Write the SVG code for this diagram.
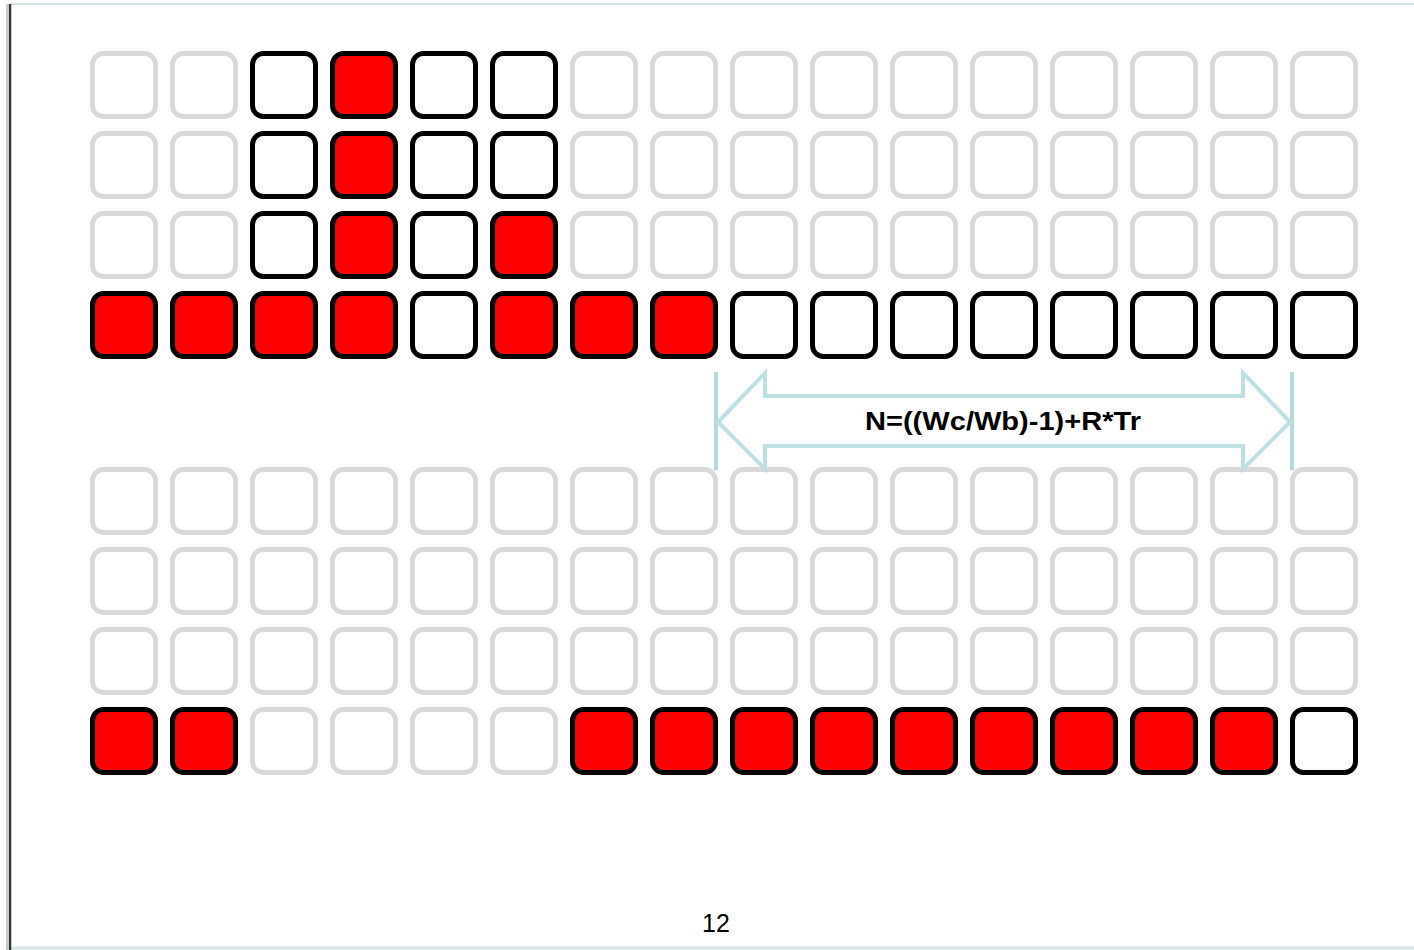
<svg xmlns="http://www.w3.org/2000/svg" width="1414" height="950" viewBox="0 0 1414 950">
<style>
rect.c{width:63px;height:63px;rx:11px;stroke-width:5px}
.g{fill:#fff;stroke:#d9d9d9}
.k{fill:#fff;stroke:#000}
.r{fill:#ff0000;stroke:#000}
.lbl{font-family:"Liberation Sans",Arial,sans-serif;font-weight:bold;font-size:26px;fill:#000}
.pg{font-family:"Liberation Sans",Arial,sans-serif;font-size:25px;fill:#000}
</style>
<rect x="0" y="0" width="1414" height="950" fill="#fff"/>
<g id="frame">
<line x1="10" y1="4" x2="1414" y2="4" stroke="#d6e6e8" stroke-width="2"/>
<line x1="10" y1="948" x2="1414" y2="948" stroke="#d6e6e8" stroke-width="3"/>
<line x1="7" y1="4" x2="7" y2="950" stroke="#c8c8c8" stroke-width="2"/>
<line x1="10" y1="4" x2="10" y2="950" stroke="#333" stroke-width="2.5"/>
</g>
<g id="row0">
<g id="r0c0"><rect class="c g" x="92.5" y="53.5" width="63" height="63" rx="11"/></g>
<g id="r0c1"><rect class="c g" x="172.5" y="53.5" width="63" height="63" rx="11"/></g>
<g id="r0c2"><rect class="c k" x="252.5" y="53.5" width="63" height="63" rx="11"/></g>
<g id="r0c3"><rect class="c r" x="332.5" y="53.5" width="63" height="63" rx="11"/></g>
<g id="r0c4"><rect class="c k" x="412.5" y="53.5" width="63" height="63" rx="11"/></g>
<g id="r0c5"><rect class="c k" x="492.5" y="53.5" width="63" height="63" rx="11"/></g>
<g id="r0c6"><rect class="c g" x="572.5" y="53.5" width="63" height="63" rx="11"/></g>
<g id="r0c7"><rect class="c g" x="652.5" y="53.5" width="63" height="63" rx="11"/></g>
<g id="r0c8"><rect class="c g" x="732.5" y="53.5" width="63" height="63" rx="11"/></g>
<g id="r0c9"><rect class="c g" x="812.5" y="53.5" width="63" height="63" rx="11"/></g>
<g id="r0c10"><rect class="c g" x="892.5" y="53.5" width="63" height="63" rx="11"/></g>
<g id="r0c11"><rect class="c g" x="972.5" y="53.5" width="63" height="63" rx="11"/></g>
<g id="r0c12"><rect class="c g" x="1052.5" y="53.5" width="63" height="63" rx="11"/></g>
<g id="r0c13"><rect class="c g" x="1132.5" y="53.5" width="63" height="63" rx="11"/></g>
<g id="r0c14"><rect class="c g" x="1212.5" y="53.5" width="63" height="63" rx="11"/></g>
<g id="r0c15"><rect class="c g" x="1292.5" y="53.5" width="63" height="63" rx="11"/></g>
</g>
<g id="row1">
<g id="r1c0"><rect class="c g" x="92.5" y="133.5" width="63" height="63" rx="11"/></g>
<g id="r1c1"><rect class="c g" x="172.5" y="133.5" width="63" height="63" rx="11"/></g>
<g id="r1c2"><rect class="c k" x="252.5" y="133.5" width="63" height="63" rx="11"/></g>
<g id="r1c3"><rect class="c r" x="332.5" y="133.5" width="63" height="63" rx="11"/></g>
<g id="r1c4"><rect class="c k" x="412.5" y="133.5" width="63" height="63" rx="11"/></g>
<g id="r1c5"><rect class="c k" x="492.5" y="133.5" width="63" height="63" rx="11"/></g>
<g id="r1c6"><rect class="c g" x="572.5" y="133.5" width="63" height="63" rx="11"/></g>
<g id="r1c7"><rect class="c g" x="652.5" y="133.5" width="63" height="63" rx="11"/></g>
<g id="r1c8"><rect class="c g" x="732.5" y="133.5" width="63" height="63" rx="11"/></g>
<g id="r1c9"><rect class="c g" x="812.5" y="133.5" width="63" height="63" rx="11"/></g>
<g id="r1c10"><rect class="c g" x="892.5" y="133.5" width="63" height="63" rx="11"/></g>
<g id="r1c11"><rect class="c g" x="972.5" y="133.5" width="63" height="63" rx="11"/></g>
<g id="r1c12"><rect class="c g" x="1052.5" y="133.5" width="63" height="63" rx="11"/></g>
<g id="r1c13"><rect class="c g" x="1132.5" y="133.5" width="63" height="63" rx="11"/></g>
<g id="r1c14"><rect class="c g" x="1212.5" y="133.5" width="63" height="63" rx="11"/></g>
<g id="r1c15"><rect class="c g" x="1292.5" y="133.5" width="63" height="63" rx="11"/></g>
</g>
<g id="row2">
<g id="r2c0"><rect class="c g" x="92.5" y="213.5" width="63" height="63" rx="11"/></g>
<g id="r2c1"><rect class="c g" x="172.5" y="213.5" width="63" height="63" rx="11"/></g>
<g id="r2c2"><rect class="c k" x="252.5" y="213.5" width="63" height="63" rx="11"/></g>
<g id="r2c3"><rect class="c r" x="332.5" y="213.5" width="63" height="63" rx="11"/></g>
<g id="r2c4"><rect class="c k" x="412.5" y="213.5" width="63" height="63" rx="11"/></g>
<g id="r2c5"><rect class="c r" x="492.5" y="213.5" width="63" height="63" rx="11"/></g>
<g id="r2c6"><rect class="c g" x="572.5" y="213.5" width="63" height="63" rx="11"/></g>
<g id="r2c7"><rect class="c g" x="652.5" y="213.5" width="63" height="63" rx="11"/></g>
<g id="r2c8"><rect class="c g" x="732.5" y="213.5" width="63" height="63" rx="11"/></g>
<g id="r2c9"><rect class="c g" x="812.5" y="213.5" width="63" height="63" rx="11"/></g>
<g id="r2c10"><rect class="c g" x="892.5" y="213.5" width="63" height="63" rx="11"/></g>
<g id="r2c11"><rect class="c g" x="972.5" y="213.5" width="63" height="63" rx="11"/></g>
<g id="r2c12"><rect class="c g" x="1052.5" y="213.5" width="63" height="63" rx="11"/></g>
<g id="r2c13"><rect class="c g" x="1132.5" y="213.5" width="63" height="63" rx="11"/></g>
<g id="r2c14"><rect class="c g" x="1212.5" y="213.5" width="63" height="63" rx="11"/></g>
<g id="r2c15"><rect class="c g" x="1292.5" y="213.5" width="63" height="63" rx="11"/></g>
</g>
<g id="row3">
<g id="r3c0"><rect class="c r" x="92.5" y="293.5" width="63" height="63" rx="11"/></g>
<g id="r3c1"><rect class="c r" x="172.5" y="293.5" width="63" height="63" rx="11"/></g>
<g id="r3c2"><rect class="c r" x="252.5" y="293.5" width="63" height="63" rx="11"/></g>
<g id="r3c3"><rect class="c r" x="332.5" y="293.5" width="63" height="63" rx="11"/></g>
<g id="r3c4"><rect class="c k" x="412.5" y="293.5" width="63" height="63" rx="11"/></g>
<g id="r3c5"><rect class="c r" x="492.5" y="293.5" width="63" height="63" rx="11"/></g>
<g id="r3c6"><rect class="c r" x="572.5" y="293.5" width="63" height="63" rx="11"/></g>
<g id="r3c7"><rect class="c r" x="652.5" y="293.5" width="63" height="63" rx="11"/></g>
<g id="r3c8"><rect class="c k" x="732.5" y="293.5" width="63" height="63" rx="11"/></g>
<g id="r3c9"><rect class="c k" x="812.5" y="293.5" width="63" height="63" rx="11"/></g>
<g id="r3c10"><rect class="c k" x="892.5" y="293.5" width="63" height="63" rx="11"/></g>
<g id="r3c11"><rect class="c k" x="972.5" y="293.5" width="63" height="63" rx="11"/></g>
<g id="r3c12"><rect class="c k" x="1052.5" y="293.5" width="63" height="63" rx="11"/></g>
<g id="r3c13"><rect class="c k" x="1132.5" y="293.5" width="63" height="63" rx="11"/></g>
<g id="r3c14"><rect class="c k" x="1212.5" y="293.5" width="63" height="63" rx="11"/></g>
<g id="r3c15"><rect class="c k" x="1292.5" y="293.5" width="63" height="63" rx="11"/></g>
</g>
<g id="row4">
<g id="r4c0"><rect class="c g" x="92.5" y="469.5" width="63" height="63" rx="11"/></g>
<g id="r4c1"><rect class="c g" x="172.5" y="469.5" width="63" height="63" rx="11"/></g>
<g id="r4c2"><rect class="c g" x="252.5" y="469.5" width="63" height="63" rx="11"/></g>
<g id="r4c3"><rect class="c g" x="332.5" y="469.5" width="63" height="63" rx="11"/></g>
<g id="r4c4"><rect class="c g" x="412.5" y="469.5" width="63" height="63" rx="11"/></g>
<g id="r4c5"><rect class="c g" x="492.5" y="469.5" width="63" height="63" rx="11"/></g>
<g id="r4c6"><rect class="c g" x="572.5" y="469.5" width="63" height="63" rx="11"/></g>
<g id="r4c7"><rect class="c g" x="652.5" y="469.5" width="63" height="63" rx="11"/></g>
<g id="r4c8"><rect class="c g" x="732.5" y="469.5" width="63" height="63" rx="11"/></g>
<g id="r4c9"><rect class="c g" x="812.5" y="469.5" width="63" height="63" rx="11"/></g>
<g id="r4c10"><rect class="c g" x="892.5" y="469.5" width="63" height="63" rx="11"/></g>
<g id="r4c11"><rect class="c g" x="972.5" y="469.5" width="63" height="63" rx="11"/></g>
<g id="r4c12"><rect class="c g" x="1052.5" y="469.5" width="63" height="63" rx="11"/></g>
<g id="r4c13"><rect class="c g" x="1132.5" y="469.5" width="63" height="63" rx="11"/></g>
<g id="r4c14"><rect class="c g" x="1212.5" y="469.5" width="63" height="63" rx="11"/></g>
<g id="r4c15"><rect class="c g" x="1292.5" y="469.5" width="63" height="63" rx="11"/></g>
</g>
<g id="row5">
<g id="r5c0"><rect class="c g" x="92.5" y="549.5" width="63" height="63" rx="11"/></g>
<g id="r5c1"><rect class="c g" x="172.5" y="549.5" width="63" height="63" rx="11"/></g>
<g id="r5c2"><rect class="c g" x="252.5" y="549.5" width="63" height="63" rx="11"/></g>
<g id="r5c3"><rect class="c g" x="332.5" y="549.5" width="63" height="63" rx="11"/></g>
<g id="r5c4"><rect class="c g" x="412.5" y="549.5" width="63" height="63" rx="11"/></g>
<g id="r5c5"><rect class="c g" x="492.5" y="549.5" width="63" height="63" rx="11"/></g>
<g id="r5c6"><rect class="c g" x="572.5" y="549.5" width="63" height="63" rx="11"/></g>
<g id="r5c7"><rect class="c g" x="652.5" y="549.5" width="63" height="63" rx="11"/></g>
<g id="r5c8"><rect class="c g" x="732.5" y="549.5" width="63" height="63" rx="11"/></g>
<g id="r5c9"><rect class="c g" x="812.5" y="549.5" width="63" height="63" rx="11"/></g>
<g id="r5c10"><rect class="c g" x="892.5" y="549.5" width="63" height="63" rx="11"/></g>
<g id="r5c11"><rect class="c g" x="972.5" y="549.5" width="63" height="63" rx="11"/></g>
<g id="r5c12"><rect class="c g" x="1052.5" y="549.5" width="63" height="63" rx="11"/></g>
<g id="r5c13"><rect class="c g" x="1132.5" y="549.5" width="63" height="63" rx="11"/></g>
<g id="r5c14"><rect class="c g" x="1212.5" y="549.5" width="63" height="63" rx="11"/></g>
<g id="r5c15"><rect class="c g" x="1292.5" y="549.5" width="63" height="63" rx="11"/></g>
</g>
<g id="row6">
<g id="r6c0"><rect class="c g" x="92.5" y="629.5" width="63" height="63" rx="11"/></g>
<g id="r6c1"><rect class="c g" x="172.5" y="629.5" width="63" height="63" rx="11"/></g>
<g id="r6c2"><rect class="c g" x="252.5" y="629.5" width="63" height="63" rx="11"/></g>
<g id="r6c3"><rect class="c g" x="332.5" y="629.5" width="63" height="63" rx="11"/></g>
<g id="r6c4"><rect class="c g" x="412.5" y="629.5" width="63" height="63" rx="11"/></g>
<g id="r6c5"><rect class="c g" x="492.5" y="629.5" width="63" height="63" rx="11"/></g>
<g id="r6c6"><rect class="c g" x="572.5" y="629.5" width="63" height="63" rx="11"/></g>
<g id="r6c7"><rect class="c g" x="652.5" y="629.5" width="63" height="63" rx="11"/></g>
<g id="r6c8"><rect class="c g" x="732.5" y="629.5" width="63" height="63" rx="11"/></g>
<g id="r6c9"><rect class="c g" x="812.5" y="629.5" width="63" height="63" rx="11"/></g>
<g id="r6c10"><rect class="c g" x="892.5" y="629.5" width="63" height="63" rx="11"/></g>
<g id="r6c11"><rect class="c g" x="972.5" y="629.5" width="63" height="63" rx="11"/></g>
<g id="r6c12"><rect class="c g" x="1052.5" y="629.5" width="63" height="63" rx="11"/></g>
<g id="r6c13"><rect class="c g" x="1132.5" y="629.5" width="63" height="63" rx="11"/></g>
<g id="r6c14"><rect class="c g" x="1212.5" y="629.5" width="63" height="63" rx="11"/></g>
<g id="r6c15"><rect class="c g" x="1292.5" y="629.5" width="63" height="63" rx="11"/></g>
</g>
<g id="row7">
<g id="r7c0"><rect class="c r" x="92.5" y="709.5" width="63" height="63" rx="11"/></g>
<g id="r7c1"><rect class="c r" x="172.5" y="709.5" width="63" height="63" rx="11"/></g>
<g id="r7c2"><rect class="c g" x="252.5" y="709.5" width="63" height="63" rx="11"/></g>
<g id="r7c3"><rect class="c g" x="332.5" y="709.5" width="63" height="63" rx="11"/></g>
<g id="r7c4"><rect class="c g" x="412.5" y="709.5" width="63" height="63" rx="11"/></g>
<g id="r7c5"><rect class="c g" x="492.5" y="709.5" width="63" height="63" rx="11"/></g>
<g id="r7c6"><rect class="c r" x="572.5" y="709.5" width="63" height="63" rx="11"/></g>
<g id="r7c7"><rect class="c r" x="652.5" y="709.5" width="63" height="63" rx="11"/></g>
<g id="r7c8"><rect class="c r" x="732.5" y="709.5" width="63" height="63" rx="11"/></g>
<g id="r7c9"><rect class="c r" x="812.5" y="709.5" width="63" height="63" rx="11"/></g>
<g id="r7c10"><rect class="c r" x="892.5" y="709.5" width="63" height="63" rx="11"/></g>
<g id="r7c11"><rect class="c r" x="972.5" y="709.5" width="63" height="63" rx="11"/></g>
<g id="r7c12"><rect class="c r" x="1052.5" y="709.5" width="63" height="63" rx="11"/></g>
<g id="r7c13"><rect class="c r" x="1132.5" y="709.5" width="63" height="63" rx="11"/></g>
<g id="r7c14"><rect class="c r" x="1212.5" y="709.5" width="63" height="63" rx="11"/></g>
<g id="r7c15"><rect class="c k" x="1292.5" y="709.5" width="63" height="63" rx="11"/></g>
</g>
<g id="connectors">
<line x1="716" y1="372" x2="716" y2="470" stroke="#b5dadd" stroke-width="4"/>
<line x1="1292" y1="372" x2="1292" y2="470" stroke="#b5dadd" stroke-width="4"/>
<path d="M718,422 L765,373 L765,396 L1243,396 L1243,373 L1290,422 L1243,469 L1243,446 L765,446 L765,469 Z" fill="#fff" stroke="#bde0e3" stroke-width="4" stroke-linejoin="miter"/>
</g>
<g id="formula">
<text class="lbl" x="1003" y="430" text-anchor="middle" textLength="276" lengthAdjust="spacingAndGlyphs">N=((Wc/Wb)-1)+R*Tr</text>
</g>
<g id="page">
<text class="pg" x="716" y="932" text-anchor="middle">12</text>
</g>
</svg>
